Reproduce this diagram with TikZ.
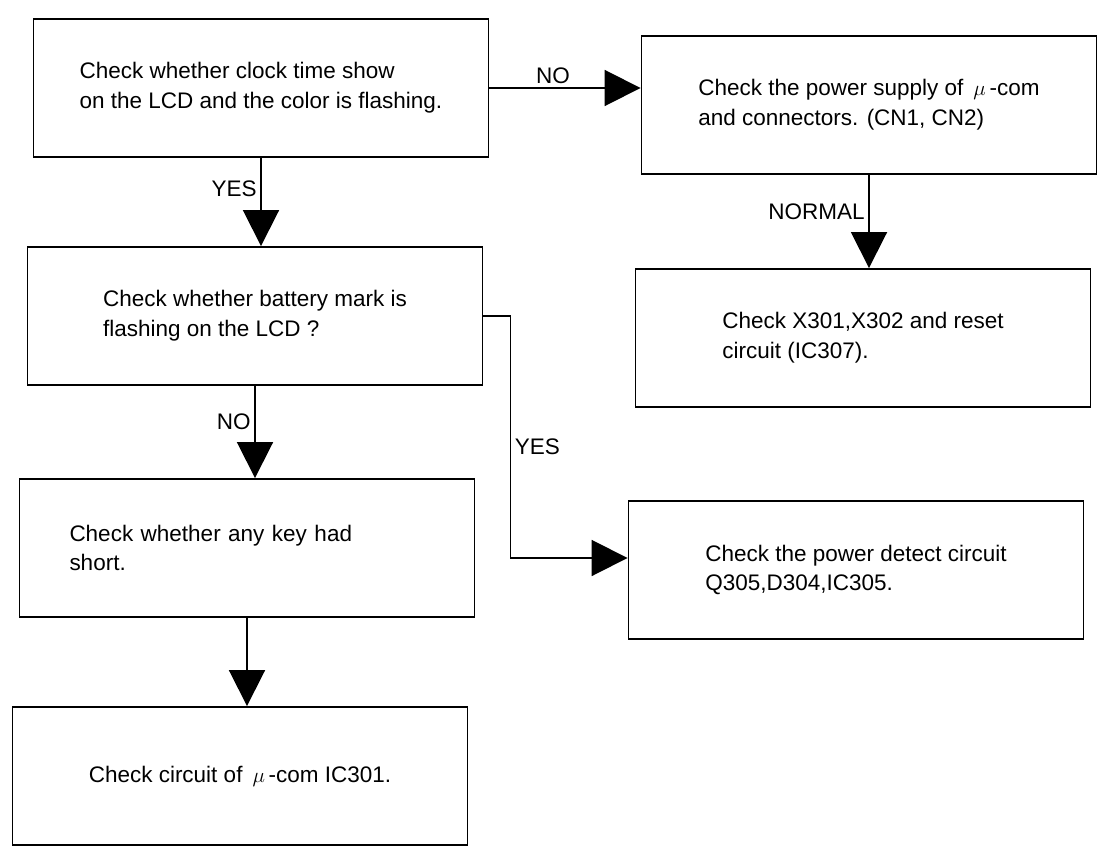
\documentclass[tikz,border=0pt]{standalone}
\usepackage{fontspec}
\setmainfont{Liberation Sans}
\usetikzlibrary{arrows.meta, positioning}

\begin{document}
\begin{tikzpicture}[
    box/.style={rectangle, draw=black, line width=1.1pt, minimum height=2.76cm, minimum width=9.1cm, align=left, font=\fontsize{12.8}{17}\selectfont},
    lbl/.style={font=\fontsize{12.8}{15}\selectfont, inner sep=2pt},
    arr/.style={-{Triangle[length=0.72cm, width=0.72cm]}, line width=1.1pt}
]
    \useasboundingbox (0,0) rectangle (21.96,-17.06);

    % Left column
    \node[box] (clock) at (5.22,-1.76) {Check whether clock time show\\on the LCD and the color is flashing.};
    \node[box] (battery) at (5.10,-6.32) {Check whether battery mark is\\flashing on the LCD ?};
    \node[box, text width=7.1cm] (keyshort) at (4.94,-10.96) {Check whether any key had\\short.};
    \node[box] (ucom) at (4.80,-15.52) {Check circuit of \,$\mu$\,-com IC301.};

    % Right column
    \node[box] (supply) at (17.38,-2.10) {Check the power supply of \,$\mu$\,-com\\and connectors. (CN1, CN2)};
    \node[box] (xtal) at (17.26,-6.76) {Check X301,X302 and reset\\circuit (IC307).};
    \node[box] (detect) at (17.12,-11.40) {Check the power detect circuit\\Q305,D304,IC305.};

    % Connections
    \draw[arr] (clock.east) -- node[lbl, above, pos=0.42] (nolbl) {NO} (clock.east -| supply.west);
    \draw[arr] (clock.south) -- node[lbl, left, pos=0.35] (yeslbl) {YES} (clock.south |- battery.north);
    \draw[arr] (supply.south) -- node[lbl, left, pos=0.4] (normallbl) {NORMAL} (supply.south |- xtal.north);
    \draw[arr] (battery.south) -- node[lbl, left, pos=0.39] (nobatlbl) {NO} (battery.south |- keyshort.north);
    \draw[arr] (battery.east) -- ++(0.54,0) |- node[lbl, right, pos=0.27] (yesbatlbl) {YES} ([yshift=0.24cm]detect.west);
    \draw[arr] (keyshort.south) -- (keyshort.south |- ucom.north);
\end{tikzpicture}
\end{document}
